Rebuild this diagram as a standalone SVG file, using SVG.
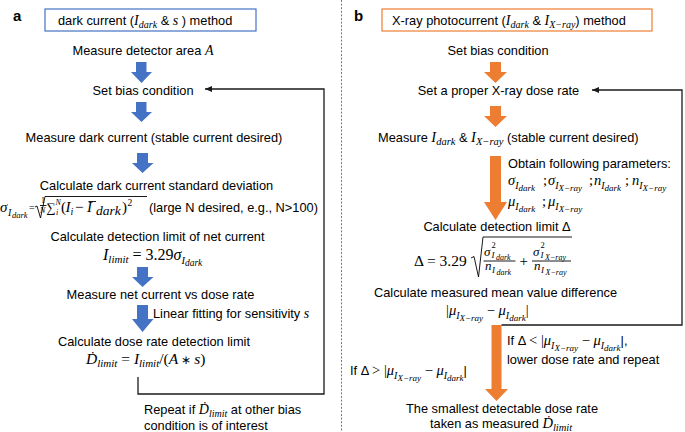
<svg xmlns="http://www.w3.org/2000/svg" width="685" height="432" viewBox="0 0 685 432">
<defs>
<style>
.s{font-family:"Liberation Sans",Arial,sans-serif;font-size:12.8px;fill:#000}
.m{font-family:"Liberation Serif","Times New Roman",serif;font-style:italic;fill:#000}
.u{font-style:normal}
.lbl{font-family:"Liberation Sans",Arial,sans-serif;font-size:15px;font-weight:bold;fill:#000}
.ab{fill:#4472C4}
.ao{fill:#ED7D31}
.fb{fill:none;stroke:#1a1a1a;stroke-width:1.3;marker-end:url(#ah)}
.sep{stroke:#777;stroke-width:1;stroke-dasharray:2 1.6}
.rl{fill:none;stroke:#000;stroke-width:0.9}
</style>
<marker id="ah" markerWidth="8" markerHeight="7" refX="7" refY="3.5" orient="auto" markerUnits="userSpaceOnUse"><path d="M0,0.5 L7,3.5 L0,6.5 z" fill="#1a1a1a"/></marker>
</defs>
<rect width="685" height="432" fill="#fff"/>
<line class="sep" x1="341.5" y1="0" x2="341.5" y2="432"/>

<g id="panel-a">
<text class="lbl" x="13" y="21">a</text>
<g id="a-title">
<rect x="45" y="9" width="211" height="22" fill="#fff" stroke="#4472C4" stroke-width="1.2"/>
<text class="s" x="58" y="24.5">dark current (<tspan class="m" font-size="14">I</tspan><tspan class="m" font-size="10" dy="3">dark</tspan><tspan dy="-3"> &amp; </tspan><tspan class="m" font-size="14">s</tspan> ) method</text>
</g>
<g id="a-area"><text class="s" x="143" y="55" text-anchor="middle">Measure detector area <tspan class="m" font-size="14">A</tspan></text></g>
<g id="a-bias"><text class="s" x="143" y="95" text-anchor="middle">Set bias condition</text></g>
<g id="a-dark"><text class="s" x="154" y="142" text-anchor="middle">Measure dark current (stable current desired)</text></g>
<g id="a-std">
<text class="s" x="156.5" y="190" text-anchor="middle">Calculate dark current standard deviation</text>
<text class="m" font-size="15"><tspan x="0" y="212">σ</tspan><tspan x="8" y="215.5" font-size="10">I</tspan><tspan x="12" y="217.5" font-size="8.5">dark</tspan><tspan x="29" y="211" font-size="10" class="u">=</tspan><tspan x="41" y="203" font-size="8" class="u">1</tspan><tspan x="40" y="212.5" font-size="8">N</tspan><tspan x="46.5" y="212" font-size="13" class="u">∑</tspan><tspan x="55.5" y="204.5" font-size="8">N</tspan><tspan x="56" y="215" font-size="8">i</tspan><tspan x="61" y="212" class="u">(</tspan><tspan x="65.5" y="212">I</tspan><tspan x="70.5" y="215" font-size="10">i</tspan><tspan x="75" y="212" class="u">−</tspan><tspan x="87" y="212">I</tspan><tspan x="96" y="215" font-size="13.5">dark</tspan><tspan x="122" y="212" class="u">)</tspan><tspan x="127.5" y="206" font-size="9.5" class="u">2</tspan></text>
<path class="rl" d="M35,207 L37,206 L40.5,218 L45,196.5 H147"/>
<path class="rl" d="M40,205.5 H46.5 M88.5,201.5 H96" stroke-width="0.7"/>
<text class="s" x="149" y="212">(large N desired, e.g., N&gt;100)</text>
</g>
<g id="a-limit">
<text class="s" x="157.5" y="241" text-anchor="middle">Calculate detection limit of net current</text>
<text class="m" font-size="16"><tspan x="103" y="260">I</tspan><tspan dy="3" font-size="11">limit</tspan><tspan dy="-3" class="u"> = 3.29</tspan><tspan>σ</tspan><tspan dy="3.5" font-size="10.5">I</tspan><tspan dy="2" font-size="9.5">dark</tspan></text>
</g>
<g id="a-net"><text class="s" x="160.5" y="299" text-anchor="middle">Measure net current vs dose rate</text></g>
<g id="a-fit"><text class="s" x="153" y="318">Linear fitting for sensitivity <tspan class="m" font-size="14">s</tspan></text></g>
<g id="a-dose">
<text class="s" x="154" y="346" text-anchor="middle">Calculate dose rate detection limit</text>
<text class="m" font-size="15.5"><tspan x="86" y="364">Ḋ</tspan><tspan dy="3" font-size="11">limit</tspan><tspan dy="-3" class="u"> = </tspan><tspan>I</tspan><tspan dy="3" font-size="11">limit</tspan><tspan dy="-3" class="u">/(</tspan><tspan>A</tspan><tspan class="u" font-size="12"> ∗ </tspan><tspan>s</tspan><tspan class="u">)</tspan></text>
</g>
<g id="a-repeat">
<text class="s" x="144" y="414">Repeat if <tspan class="m" font-size="14">Ḋ</tspan><tspan class="m" font-size="10" dy="2.5">limit</tspan><tspan dy="-2.5"> at other bias</tspan></text>
<text class="s" x="144" y="430">condition is of interest</text>
</g>
</g>

<g id="panel-b">
<text class="lbl" x="354" y="21">b</text>
<g id="b-title">
<rect x="382" y="9" width="270" height="22" fill="#fff" stroke="#ED7D31" stroke-width="1.2"/>
<text class="s" x="392" y="24.5">X-ray photocurrent (<tspan class="m" font-size="14">I</tspan><tspan class="m" font-size="10" dy="3">dark</tspan><tspan dy="-3"> &amp; </tspan><tspan class="m" font-size="14">I</tspan><tspan class="m" font-size="10" dy="3">X−ray</tspan><tspan dy="-3">) method</tspan></text>
</g>
<g id="b-bias"><text class="s" x="498" y="55" text-anchor="middle">Set bias condition</text></g>
<g id="b-rate"><text class="s" x="498.5" y="95" text-anchor="middle">Set a proper X-ray dose rate</text></g>
<g id="b-measure"><text class="s" x="378" y="142">Measure <tspan class="m" font-size="14.5">I</tspan><tspan class="m" font-size="10.5" dy="3">dark</tspan><tspan dy="-3"> &amp; </tspan><tspan class="m" font-size="14.5">I</tspan><tspan class="m" font-size="10.5" dy="3">X−ray</tspan><tspan dy="-3"> (stable current desired)</tspan></text></g>
<g id="b-params">
<text class="s" x="508" y="168">Obtain following parameters:</text>
<text class="m" font-size="14.5"><tspan x="508" y="185">σ</tspan><tspan dy="3.5" font-size="10">I</tspan><tspan dy="2" font-size="9">dark</tspan><tspan x="543" y="185" class="u">;</tspan><tspan x="548" y="185">σ</tspan><tspan dy="3.5" font-size="10">I</tspan><tspan dy="2" font-size="9">X−ray</tspan><tspan x="589" y="185" class="u">;</tspan><tspan x="594" y="185">n</tspan><tspan dy="3.5" font-size="10">I</tspan><tspan dy="2" font-size="9">dark</tspan><tspan x="625" y="185" class="u">;</tspan><tspan x="632" y="185">n</tspan><tspan dy="3.5" font-size="10">I</tspan><tspan dy="2" font-size="9">X−ray</tspan></text>
<text class="m" font-size="14.5"><tspan x="508" y="206">μ</tspan><tspan dy="3.5" font-size="10">I</tspan><tspan dy="2" font-size="9">dark</tspan><tspan x="542" y="206" class="u">;</tspan><tspan x="548" y="206">μ</tspan><tspan dy="3.5" font-size="10">I</tspan><tspan dy="2" font-size="9">X−ray</tspan></text>
</g>
<g id="b-delta">
<text class="s" x="497" y="231" text-anchor="middle">Calculate detection limit Δ</text>
<text class="m u" x="414" y="266" font-size="15.5">Δ = 3.29</text>
<path class="rl" d="M471,258 L474,256.5 L478.5,277 L483,237 H572"/>
<path class="rl" d="M483.5,261 H515.5 M532,261 H571" stroke-width="0.7"/>
<text class="m" font-size="13"><tspan x="484" y="255.5">σ</tspan><tspan x="491.5" y="248" font-size="8.5" class="u">2</tspan><tspan x="491.5" y="258" font-size="9">I</tspan><tspan x="496" y="259.5" font-size="8">dark</tspan><tspan x="485" y="270">n</tspan><tspan x="492" y="273" font-size="9">I</tspan><tspan x="496.5" y="275" font-size="8">dark</tspan></text>
<text class="m u" x="519.5" y="266" font-size="15">+</text>
<text class="m" font-size="13"><tspan x="533" y="255.5">σ</tspan><tspan x="540.5" y="248" font-size="8.5" class="u">2</tspan><tspan x="540.5" y="258" font-size="9">I</tspan><tspan x="545" y="259.5" font-size="8">X−ray</tspan><tspan x="534" y="270">n</tspan><tspan x="541" y="273" font-size="9">I</tspan><tspan x="545.5" y="275" font-size="8">X−ray</tspan></text>
</g>
<g id="b-diff">
<text class="s" x="495.5" y="296.5" text-anchor="middle">Calculate measured mean value difference</text>
<text class="m" font-size="14.5"><tspan x="446" y="315" class="u">|</tspan><tspan>μ</tspan><tspan dy="3.5" font-size="10">I</tspan><tspan dy="2" font-size="9">X−ray</tspan><tspan dy="-5.5" class="u"> − </tspan><tspan>μ</tspan><tspan dy="3.5" font-size="10">I</tspan><tspan dy="2" font-size="9">dark</tspan><tspan dy="-5.5" class="u">|</tspan></text>
</g>
<g id="b-less">
<text class="s" x="507" y="345">If Δ <tspan class="m u" font-size="14.5">&lt; |</tspan><tspan class="m" font-size="14.5">μ</tspan><tspan class="m" dy="3.5" font-size="10">I</tspan><tspan class="m" dy="2" font-size="9">X−ray</tspan><tspan class="m u" dy="-5.5" font-size="14.5"> − </tspan><tspan class="m" font-size="14.5">μ</tspan><tspan class="m" dy="3.5" font-size="10">I</tspan><tspan class="m" dy="2" font-size="9">dark</tspan><tspan dy="-5.5">|,</tspan></text>
<text class="s" x="507" y="363.5">lower dose rate and repeat</text>
</g>
<g id="b-greater">
<text class="s" x="350" y="375">If Δ <tspan class="m u" font-size="14.5">&gt; |</tspan><tspan class="m" font-size="14.5">μ</tspan><tspan class="m" dy="3.5" font-size="10">I</tspan><tspan class="m" dy="2" font-size="9">X−ray</tspan><tspan class="m u" dy="-5.5" font-size="14.5"> − </tspan><tspan class="m" font-size="14.5">μ</tspan><tspan class="m" dy="3.5" font-size="10">I</tspan><tspan class="m" dy="2" font-size="9">dark</tspan><tspan dy="-5.5">|</tspan></text>
</g>
<g id="b-result">
<text class="s" x="502" y="413" text-anchor="middle">The smallest detectable dose rate</text>
<text class="s" x="430" y="428">taken as measured <tspan class="m" font-size="14.5">Ḋ</tspan><tspan class="m" font-size="10.5" dy="3">limit</tspan></text>
</g>
</g>

<g id="connectors">
<path class="ab" d="M136,62 H146.5 V72 H152 L141.5,83 L131,72 H136 Z"/>
<path class="ab" d="M136,102 H146.5 V112 H152 L141.5,122 L131,112 H136 Z"/>
<path class="ab" d="M137,153 H148 V163 H153.5 L142.5,173 L132,163 H137 Z"/>
<path class="ab" d="M137,267 H148 V277 H153.5 L142.5,287 L132,277 H137 Z"/>
<path class="ab" d="M137,305 H148 V319 H153.5 L142.5,332 L132,319 H137 Z"/>
<polyline class="fb" points="138,377 138,394 324,394 324,89 205,89"/>
<path class="ao" d="M490,62 H501 V72 H507 L495.5,83 L484,72 H490 Z"/>
<path class="ao" d="M490,106 H501 V116 H507 L495.5,127 L484,116 H490 Z"/>
<path class="ao" d="M490,156 H501 V202 H507 L495.5,220 L484,202 H490 Z"/>
<path class="ao" d="M491.5,325 H501.5 V389 H508 L496.5,401 L485,389 H491.5 Z"/>
<polyline class="fb" points="501.5,325 682,325 682,90 592,90"/>
</g>
</svg>
